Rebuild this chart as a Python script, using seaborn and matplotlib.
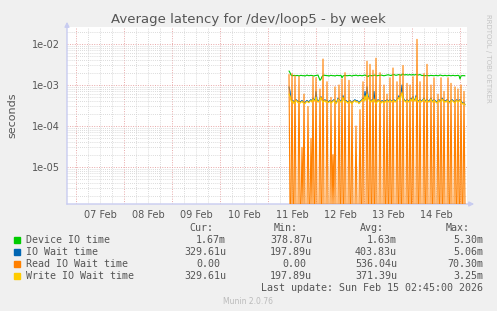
import numpy as np
import pandas as pd
import matplotlib
matplotlib.use("Agg")
import matplotlib.pyplot as plt
import matplotlib.dates as mdates
from matplotlib.ticker import LogLocator, FuncFormatter, NullFormatter
import seaborn as sns

# ---------------- data (microseconds, 30-minute samples) ----------------
START = "2026-02-11 10:30"

device_io_us = [
    2200, 2000, 1750, 1700, 1680, 1720, 1700, 1690, 1710, 1700, 1650, 1700,
    1720, 1700, 1680, 1700, 1650, 1700, 1750, 1700, 1690, 1700, 1720, 1700,
    1680, 1650, 1700, 1700, 1720, 1750, 1500, 1300, 1400, 1600, 1700, 1750,
    1700, 1720, 1680, 1700, 1650, 1700, 1720, 1700, 1680, 1700, 1650, 1700,
    1720, 1700, 1690, 1700, 1720, 1500, 1650, 1700, 1720, 1700, 1680, 1700,
    1700, 1720, 1680, 1650, 1700, 1720, 1700, 1750, 1700, 1680, 1700, 1720,
    1700, 1680, 1700, 1720, 1750, 1700, 1650, 1600, 1700, 1720, 1700, 1680,
    1700, 1720, 1750, 1700, 1680, 1700, 1720, 1700, 1750, 1720, 1700, 1680,
    1700, 1720, 1750, 1780, 1750, 1720, 1700, 1750, 1780, 1800, 1750, 1720,
    1750, 1780, 1800, 1750, 1720, 1800, 1850, 1780, 1750, 1800, 1780, 1750,
    1780, 1800, 1750, 1780, 1800, 1750, 1780, 1800, 1780, 1750, 1780, 1800,
    1750, 1700, 1720, 1700, 1680, 1700, 1720, 1700, 1680, 1700, 1720, 1700,
    1700, 1680, 1700, 1720, 1700, 1680, 1700, 1750, 1720, 1700, 1680, 1700,
    1720, 1700, 1680, 1700, 1720, 1700, 1680, 1700, 1720, 1700, 1680, 1700,
    1700, 1720, 1700, 1400, 1650, 1700, 1680, 1700, 1670,
]

io_wait_us = [
    900, 700, 450, 400, 420, 370, 400, 440, 420, 390, 400, 380,
    400, 420, 390, 380, 370, 400, 420, 400, 390, 420, 440, 400,
    480, 440, 420, 700, 440, 400, 420, 480, 520, 440, 400, 420,
    440, 400, 420, 390, 400, 420, 380, 400, 420, 440, 400, 370,
    400, 480, 440, 420, 400, 420, 550, 440, 400, 420, 400, 380,
    400, 420, 390, 370, 400, 420, 440, 400, 420, 400, 370, 400,
    420, 440, 480, 420, 700, 440, 900, 550, 480, 420, 400, 440,
    420, 700, 400, 370, 400, 440, 420, 400, 380, 420, 400, 380,
    420, 400, 440, 420, 400, 440, 420, 400, 420, 440, 400, 420,
    440, 480, 550, 440, 600, 1000, 520, 440, 420, 400, 440, 420,
    400, 440, 480, 420, 520, 440, 420, 550, 440, 400, 420, 440,
    400, 420, 440, 480, 420, 400, 440, 420, 400, 440, 480, 420,
    400, 440, 420, 400, 380, 420, 440, 400, 420, 480, 440, 400,
    420, 400, 440, 420, 400, 380, 420, 440, 420, 400, 380, 420,
    440, 400, 420, 440, 400, 380, 360, 370, 330,
]

read_wait_us = [
    1800, 0, 0, 1900, 0, 0, 1700, 0, 0, 0, 1600, 0,
    0, 30, 0, 600, 0, 0, 0, 300, 0, 0, 50, 0,
    1600, 0, 0, 1500, 0, 0, 0, 800, 0, 0, 4300, 0,
    0, 0, 1200, 0, 0, 0, 500, 0, 20, 0, 900, 0,
    0, 0, 1000, 0, 0, 1400, 0, 0, 2000, 0, 0, 0,
    1300, 0, 0, 400, 0, 0, 0, 100, 0, 0, 0, 250,
    0, 0, 1200, 0, 0, 0, 3800, 0, 0, 3200, 0, 0,
    2300, 0, 0, 4500, 0, 0, 0, 2000, 0, 0, 0, 1000,
    0, 0, 600, 0, 0, 1500, 0, 0, 2600, 0, 0, 0,
    1200, 0, 0, 1800, 0, 0, 3000, 0, 0, 0, 1100, 0,
    0, 1000, 0, 0, 1600, 0, 0, 0, 13000, 0, 0, 1200,
    0, 0, 0, 1900, 0, 0, 3200, 0, 0, 0, 1000, 0,
    0, 1500, 0, 0, 0, 600, 0, 0, 1500, 0, 0, 700,
    0, 0, 0, 1500, 0, 0, 1100, 0, 0, 0, 900, 0,
    0, 800, 0, 0, 1000, 0, 0, 700, 0,
]

write_wait_us = [
    600, 550, 420, 380, 400, 350, 380, 420, 400, 370, 380, 360,
    380, 400, 370, 360, 350, 380, 400, 380, 370, 400, 420, 380,
    450, 420, 400, 500, 420, 380, 400, 450, 500, 420, 380, 400,
    420, 380, 400, 370, 380, 400, 360, 380, 400, 420, 380, 350,
    380, 450, 420, 400, 380, 400, 500, 420, 380, 400, 380, 360,
    380, 400, 370, 350, 380, 400, 420, 380, 400, 380, 350, 380,
    400, 420, 450, 400, 550, 420, 600, 500, 450, 400, 380, 420,
    400, 450, 380, 350, 380, 420, 400, 380, 360, 400, 380, 360,
    400, 380, 420, 400, 380, 420, 400, 380, 400, 420, 380, 400,
    420, 450, 500, 420, 550, 650, 480, 420, 400, 380, 420, 400,
    380, 420, 450, 400, 480, 420, 400, 500, 420, 380, 400, 420,
    380, 400, 420, 450, 400, 380, 420, 400, 380, 420, 450, 400,
    380, 420, 400, 380, 360, 400, 420, 380, 400, 450, 420, 380,
    400, 380, 420, 400, 380, 360, 400, 420, 400, 380, 360, 400,
    420, 380, 400, 420, 380, 360, 340, 350, 330,
]

series_names = ["Device IO time", "IO Wait time", "Read IO Wait time", "Write IO Wait time"]
series_colors = ["#00cc00", "#0066b3", "#ff8000", "#ffcc00"]
cur_vals = ["1.67m", "329.61u", "0.00", "329.61u"]
min_vals = ["378.87u", "197.89u", "0.00", "197.89u"]
avg_vals = ["1.63m", "403.83u", "536.04u", "371.39u"]
max_vals = ["5.30m", "5.06m", "70.30m", "3.25m"]
col_headers = ["Cur:", "Min:", "Avg:", "Max:"]

title = "Average latency for /dev/loop5 - by week"
ylabel = "seconds"
last_update = "Last update: Sun Feb 15 02:45:00 2026"
footer = "Munin 2.0.76"
side_text = "RRDTOOL / TOBI OETIKER"

# ---------------- build long table ----------------
times = pd.date_range(START, periods=len(device_io_us), freq="30min")
wide = pd.DataFrame({
    "time": times,
    series_names[0]: np.array(device_io_us) * 1e-6,
    series_names[1]: np.array(io_wait_us) * 1e-6,
    series_names[2]: np.array(read_wait_us) * 1e-6,
    series_names[3]: np.array(write_wait_us) * 1e-6,
})
long = wide.melt(id_vars="time", var_name="series", value_name="value")
FLOOR = 1e-6  # zeros are drawn down to the bottom edge of the log axis
long["shown"] = long["value"].clip(lower=FLOOR)

# ---------------- figure ----------------
sns.set_style("white")
plt.rcParams["font.family"] = ["DejaVu Sans"]

W, H = 497, 311
BG = "#f0f0f0"
TXT = "#555555"
fig = plt.figure(figsize=(W / 100, H / 100), dpi=100, facecolor=BG)
ax = fig.add_axes([67 / W, 1 - 204 / H, 400 / W, 177 / H])
ax.set_facecolor("white")

ax.set_yscale("log")
widths = [0.8, 0.8, 0.8, 0.8]
for i in range(4):
    sub = long[long["series"] == series_names[i]]
    sns.lineplot(data=sub, x="time", y="shown", color=series_colors[i],
                 linewidth=widths[i], ax=ax, legend=False, estimator=None,
                 zorder=3 + i)

ax.set_ylim(1.25e-6, 2.6e-2)
ax.set_xlim(pd.Timestamp("2026-02-06 19:30"), pd.Timestamp("2026-02-15 03:30"))

# grid
ax.yaxis.set_major_locator(LogLocator(base=10, numticks=20))
ax.yaxis.set_minor_locator(LogLocator(base=10, subs=np.arange(2, 10), numticks=40))
ax.yaxis.set_major_formatter(FuncFormatter(lambda v, _: f"{v:.0e}"))
ax.yaxis.set_minor_formatter(NullFormatter())

ax.xaxis.set_major_locator(mdates.DayLocator())
ax.xaxis.set_major_formatter(NullFormatter())
ax.xaxis.set_minor_locator(mdates.HourLocator(byhour=[6, 12, 18]))
ax.xaxis.set_minor_formatter(FuncFormatter(
    lambda v, _: mdates.num2date(v).strftime("%d %b") if mdates.num2date(v).hour == 12 else ""))

ax.grid(which="major", color="#e8a8a8", linestyle=(0, (1, 1.5)), linewidth=0.7)
ax.grid(which="minor", color="#cfcfcf", linestyle=(0, (1, 1.5)), linewidth=0.6)
ax.set_axisbelow(True)

ax.tick_params(axis="both", which="both", length=0, labelsize=7, colors=TXT)
ax.tick_params(axis="y", pad=5)
ax.tick_params(axis="x", which="minor", pad=4)
ax.set_xlabel("")
ax.set_ylabel(ylabel, fontsize=8, color=TXT)
ax.yaxis.set_label_coords(-50 / 400, 0.5)
for s in ax.spines.values():
    s.set_visible(False)

# axis lines with arrows
AX_C = "#c8ccf0"
ax.annotate("", xy=(67, H - 19), xytext=(67, H - 207), xycoords="figure pixels",
            textcoords="figure pixels", annotation_clip=False,
            arrowprops=dict(arrowstyle="-|>", color=AX_C, lw=1, mutation_scale=7))
ax.annotate("", xy=(477, H - 204), xytext=(64, H - 204), xycoords="figure pixels",
            textcoords="figure pixels", annotation_clip=False,
            arrowprops=dict(arrowstyle="-|>", color=AX_C, lw=1, mutation_scale=7))

def ftext(x, y, s, **kw):
    fig.text(x / W, 1 - y / H, s, **kw)

ftext(248, 19, title, ha="center", va="center", fontsize=9.5, color=TXT)
ftext(488, 58, side_text, ha="center", va="center", rotation=270, fontsize=5, color="#c4c4c4")

# legend
MONO = dict(family="DejaVu Sans Mono", fontsize=7.2, color=TXT, va="center")
header_x = [213, 298, 384, 470]
for hx, hs in zip(header_x, col_headers):
    ftext(hx, 228, hs, ha="right", **MONO)

row_y = [240, 252, 264, 276]
col_x = [226, 312, 397, 483]
for r in range(4):
    y = row_y[r]
    fig.patches.append(plt.Rectangle((14 / W, 1 - (y + 3) / H), 6 / W, 6 / H,
                                     transform=fig.transFigure, color=series_colors[r]))
    ftext(26, y, series_names[r], ha="left", **MONO)
    for cx, vals in zip(col_x, [cur_vals, min_vals, avg_vals, max_vals]):
        v = vals[r]
        x = cx if v[-1].isalpha() else cx - 6
        ftext(x, y, v, ha="right", **MONO)

ftext(483, 288, last_update, ha="right", **MONO)
ftext(248, 301, footer, ha="center", va="center", fontsize=5.5, color="#bbbbbb")

fig.savefig("out.png", dpi=100, facecolor=BG)
